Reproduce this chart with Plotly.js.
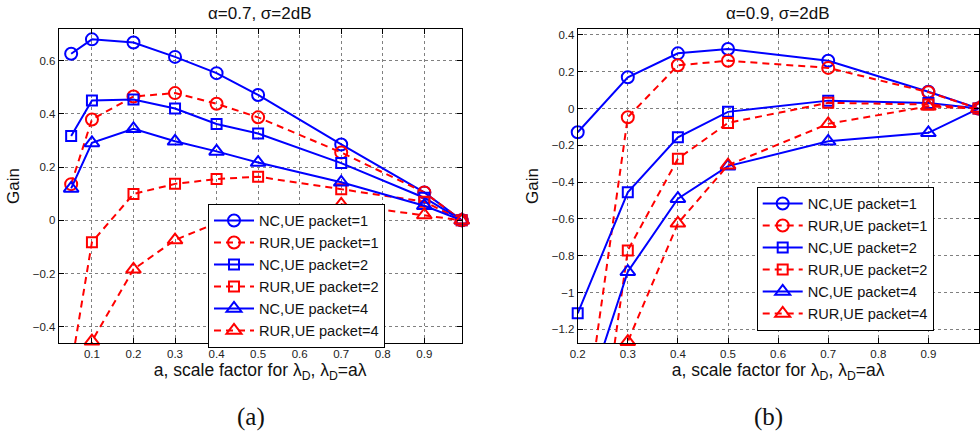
<!DOCTYPE html>
<html>
<head>
<meta charset="utf-8">
<script src="https://cdn.plot.ly/plotly-3.0.1.min.js"></script>
<style>
  html, body { margin: 0; padding: 0; background: #fff; }
  #chart { width: 980px; height: 433px; }
</style>
</head>
<body>
<div id="chart"></div>
<script>
// Panel (a): alpha = 0.7, sigma = 2 dB
const aPanelA = [0.05, 0.1, 0.2, 0.3, 0.4, 0.5, 0.7, 0.9, 0.99];
const ncP1A  = [0.626, 0.680, 0.668, 0.614, 0.553, 0.471, 0.285, 0.105, 0];
const rurP1A = [0.136, 0.379, 0.465, 0.478, 0.438, 0.387, 0.255, 0.105, 0];
const ncP2A  = [0.317, 0.450, 0.454, 0.420, 0.362, 0.326, 0.215, 0.085, 0];
const rurP2A = [-0.55, -0.082, 0.099, 0.137, 0.155, 0.164, 0.117, 0.070, 0];
const ncP4A  = [0.120, 0.291, 0.344, 0.297, 0.259, 0.217, 0.143, 0.055, 0];
const rurP4A = [-1.2, -0.454, -0.184, -0.074, -0.010, 0.020, 0.060, 0.020, 0];

// Panel (b): alpha = 0.9, sigma = 2 dB
const aPanelB = [0.2, 0.3, 0.4, 0.5, 0.7, 0.9, 1.0];
const ncP1B  = [-0.129, 0.170, 0.300, 0.324, 0.260, 0.091, 0];
const rurP1B = [-1.98, -0.047, 0.235, 0.260, 0.221, 0.089, 0];
const ncP2B  = [-1.113, -0.455, -0.156, -0.018, 0.043, 0.030, 0];
const rurP2B = [-2.7, -0.771, -0.273, -0.078, 0.031, 0.022, 0];
const ncP4B  = [-1.72, -0.887, -0.490, -0.313, -0.178, -0.132, 0];
const rurP4B = [-3.0, -1.267, -0.624, -0.308, -0.083, 0.012, 0];

const seriesNames = ['NC,UE packet=1', 'RUR,UE packet=1', 'NC,UE packet=2',
                     'RUR,UE packet=2', 'NC,UE packet=4', 'RUR,UE packet=4'];

const xTicksA = [0.1, 0.2, 0.3, 0.4, 0.5, 0.6, 0.7, 0.8, 0.9];
const xTicksB = [0.2, 0.3, 0.4, 0.5, 0.6, 0.7, 0.8, 0.9, 1];
const yTicksA = [-0.4, -0.2, 0, 0.2, 0.4, 0.6];
const yTicksB = [-1.2, -1, -0.8, -0.6, -0.4, -0.2, 0, 0.2, 0.4];

const BLUE = '#0000ff', RED = '#ff0000';
const FONT = '"Liberation Sans", Arial, Helvetica, sans-serif';
const SERIF = '"Liberation Serif", "DejaVu Serif", serif';

function styleFor(i) {
  const isNC = i % 2 === 0;
  const k = Math.floor(i / 2);
  const sym = ['circle-open', 'square-open', 'triangle-up-open'][k];
  const size = [12, 10, 13][k];
  const col = isNC ? BLUE : RED;
  return {
    line: { color: col, width: 2, dash: isNC ? 'solid' : '7px,5px' },
    marker: { symbol: sym, size: size, color: col, line: { color: col, width: 2 } }
  };
}

const dataA = [ncP1A, rurP1A, ncP2A, rurP2A, ncP4A, rurP4A];
const dataB = [ncP1B, rurP1B, ncP2B, rurP2B, ncP4B, rurP4B];

const traces = [];
dataA.forEach((ys, i) => {
  traces.push(Object.assign({
    type: 'scatter', mode: 'lines+markers', x: aPanelA, y: ys,
    name: seriesNames[i], xaxis: 'x', yaxis: 'y', legend: 'legend',
    cliponaxis: false
  }, styleFor(i)));
});
dataB.forEach((ys, i) => {
  traces.push(Object.assign({
    type: 'scatter', mode: 'lines+markers', x: aPanelB, y: ys,
    name: seriesNames[i], xaxis: 'x2', yaxis: 'y2', legend: 'legend2',
    cliponaxis: false
  }, styleFor(i)));
});

const W = 980, H = 433;
const yDom = [(H - 343.3) / H, (H - 28.7) / H];

function xAxis(domain, range, ticks, anchor) {
  return {
    domain: domain, range: range, anchor: anchor,
    tickvals: ticks, ticktext: ticks.map(v => String(v)),
    ticks: 'inside', ticklen: 5, tickcolor: '#000', tickwidth: 1,
    showline: true, linecolor: '#000', linewidth: 1, mirror: 'ticks',
    showgrid: true, gridcolor: '#808080', griddash: 'dot', gridwidth: 1,
    zeroline: false,
    tickfont: { family: FONT, size: 11.5, color: '#222' },
    title: { text: 'a, scale factor for λ<sub>D</sub>, λ<sub>D</sub>=aλ',
             font: { family: FONT, size: 17.5, color: '#111' }, standoff: 4 }
  };
}
function yAxis(range, ticks, anchor) {
  return {
    domain: yDom, range: range, anchor: anchor,
    tickvals: ticks,
    ticks: 'inside', ticklen: 5, tickcolor: '#000', tickwidth: 1,
    showline: true, linecolor: '#000', linewidth: 1, mirror: 'ticks',
    showgrid: true, gridcolor: '#808080', griddash: 'dot', gridwidth: 1,
    zeroline: false,
    tickfont: { family: FONT, size: 11.5, color: '#222' },
    title: { text: 'Gain', font: { family: FONT, size: 17, color: '#111' }, standoff: 8 }
  };
}

const legendStyle = {
  bgcolor: '#fff', bordercolor: '#000', borderwidth: 1,
  font: { family: FONT, size: 14.6, color: '#111' },
  xanchor: 'left', yanchor: 'top', tracegroupgap: 0, itemwidth: 40
};

function label(text, x, y, font) {
  return { text: text, xref: 'paper', yref: 'paper', x: x / W, y: (H - y) / H,
           xanchor: 'center', yanchor: 'middle', showarrow: false, font: font };
}

const layout = {
  width: W, height: H,
  margin: { l: 0, r: 0, t: 0, b: 0 },
  paper_bgcolor: '#fff', plot_bgcolor: '#fff',
  xaxis: xAxis([58.7 / W, 461.7 / W], [0.02, 0.99], xTicksA, 'y'),
  yaxis: yAxis([-0.462, 0.72], yTicksA, 'x'),
  xaxis2: xAxis([577.7 / W, 978.5 / W], [0.2, 1.0], xTicksB, 'y2'),
  yaxis2: yAxis([-1.276, 0.434], yTicksB, 'x2'),
  legend: Object.assign({ x: 208 / W, y: (H - 203.5) / H }, legendStyle),
  legend2: Object.assign({ x: 756.7 / W, y: (H - 186.5) / H }, legendStyle),
  annotations: [
    label('α=0.7, σ=2dB', 260, 13, { family: FONT, size: 17, color: '#111' }),
    label('α=0.9, σ=2dB', 778, 13, { family: FONT, size: 17, color: '#111' }),
    label('(a)', 251, 416.5, { family: SERIF, size: 25, color: '#111' }),
    label('(b)', 768.5, 416.5, { family: SERIF, size: 25, color: '#111' })
  ]
};

Plotly.newPlot('chart', traces, layout, { displayModeBar: false, staticPlot: true });
</script>
</body>
</html>
